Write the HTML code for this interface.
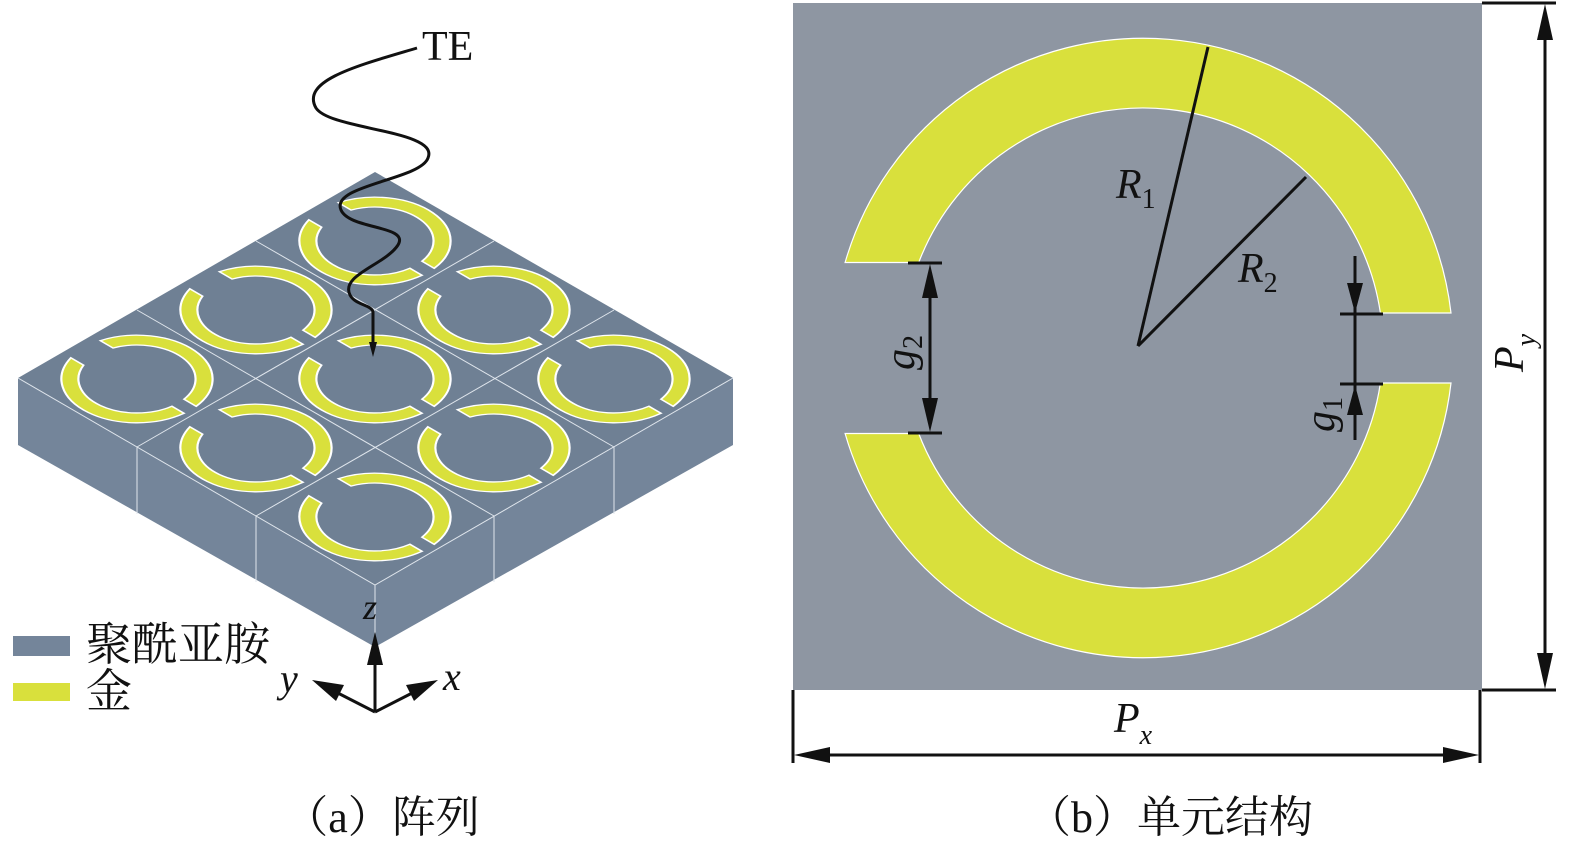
<!DOCTYPE html>
<html><head><meta charset="utf-8"><style>
html,body{margin:0;padding:0;background:#fff;}
svg{display:block;}
</style></head><body>
<svg width="1575" height="849" viewBox="0 0 1575 849" xmlns="http://www.w3.org/2000/svg" font-family="'Liberation Serif','Noto Serif CJK SC',serif">
<defs>
  <g id="ringL">
    <path d="M-297.9,-85.5 A310,310 0 0 1 308,-35 L237.4,-35 A240,240 0 0 0 -224.3,-85.5 Z" fill="#d9e03c" stroke="#fff" stroke-width="9"/>
    <path d="M-297.9,85.5 A310,310 0 0 0 308,35 L237.4,35 A240,240 0 0 1 -224.3,85.5 Z" fill="#d9e03c" stroke="#fff" stroke-width="9"/>
  </g>
  <g id="ringR">
    <path d="M-297.9,-85.5 A310,310 0 0 1 308,-35 L237.4,-35 A240,240 0 0 0 -224.3,-85.5 Z" fill="#d9e03c" stroke="#fff" stroke-width="1.2"/>
    <path d="M-297.9,85.5 A310,310 0 0 0 308,35 L237.4,35 A240,240 0 0 1 -224.3,85.5 Z" fill="#d9e03c" stroke="#fff" stroke-width="1.2"/>
  </g>
</defs>

<!-- LEFT: slab -->
<polygon points="18,378 375,585 375,647 18,445" fill="#74859a"/>
<polygon points="375,585 733,378 733,445 375,647" fill="#74859a"/>
<polygon points="375,172 733,378 375,585 18,378" fill="#6f8094"/>
<g stroke="#dfe5ec" stroke-width="1" fill="none">
  <polyline points="18,378 375,585 733,378"/>
  <line x1="375" y1="585" x2="375" y2="647"/>
  <line x1="137" y1="447" x2="137" y2="514"/>
  <line x1="256" y1="516" x2="256" y2="582"/>
  <line x1="494" y1="516" x2="494" y2="582"/>
  <line x1="614" y1="447" x2="614" y2="514"/>
  <line x1="256" y1="241" x2="614" y2="447"/>
  <line x1="137" y1="310" x2="494" y2="516"/>
  <line x1="494" y1="241" x2="137" y2="447"/>
  <line x1="614" y1="310" x2="256" y2="516"/>
</g>
<g>
  <use href="#ringL" transform="matrix(0.1725,0.1,-0.1725,0.1,375,241)"/>
  <use href="#ringL" transform="matrix(0.1725,0.1,-0.1725,0.1,256,310)"/>
  <use href="#ringL" transform="matrix(0.1725,0.1,-0.1725,0.1,494,310)"/>
  <use href="#ringL" transform="matrix(0.1725,0.1,-0.1725,0.1,137,379)"/>
  <use href="#ringL" transform="matrix(0.1725,0.1,-0.1725,0.1,375,379)"/>
  <use href="#ringL" transform="matrix(0.1725,0.1,-0.1725,0.1,614,379)"/>
  <use href="#ringL" transform="matrix(0.1725,0.1,-0.1725,0.1,256,448)"/>
  <use href="#ringL" transform="matrix(0.1725,0.1,-0.1725,0.1,494,448)"/>
  <use href="#ringL" transform="matrix(0.1725,0.1,-0.1725,0.1,375,517)"/>
</g>
<!-- wave -->
<path d="M417,48 C360,65 300,80 316,108 C330,130 440,130 428,158 C420,180 330,185 341,210 C350,230 410,225 398,245 C385,265 340,275 350,295 C355,305 372,305 373,312 L373,345" fill="none" stroke="#111" stroke-width="3"/>
<polygon points="369,342 377,342 373,357" fill="#111"/>
<text x="422" y="60" font-size="42" fill="#111">TE</text>

<!-- axes -->
<g stroke="#111" stroke-width="3" fill="none">
  <line x1="375" y1="712" x2="375" y2="650"/>
  <line x1="375" y1="712" x2="330" y2="689"/>
  <line x1="375" y1="712" x2="420" y2="689"/>
</g>
<polygon points="375,632 367,665 383,665" fill="#111"/>
<polygon points="312,680 344,685 336,701" fill="#111"/>
<polygon points="438,680 406,685 414,701" fill="#111"/>
<text x="363" y="619" font-style="italic" font-size="36" fill="#111">z</text>
<text x="280" y="692" font-style="italic" font-size="40" fill="#111">y</text>
<text x="443" y="690" font-style="italic" font-size="40" fill="#111">x</text>

<!-- legend -->
<rect x="13" y="636" width="57" height="20" fill="#74859a"/>
<rect x="13" y="683" width="57" height="18" fill="#d9e03c"/>
<text x="86" y="660" font-size="46" fill="#111">聚酰亚胺</text>
<text x="86" y="707" font-size="46" fill="#111">金</text>

<text x="382" y="832" font-size="44" fill="#111" text-anchor="middle">（a）阵列</text>
<text x="1170" y="832" font-size="44" fill="#111" text-anchor="middle">（b）单元结构</text>

<!-- RIGHT: unit cell -->
<rect x="793" y="3" width="689" height="687" fill="#8e96a2"/>
<use href="#ringR" transform="translate(1143,348)"/>
<g stroke="#111" stroke-width="3" fill="none">
  <line x1="1138" y1="346" x2="1208" y2="47"/>
  <line x1="1138" y1="346" x2="1306" y2="177"/>
  <line x1="908" y1="263" x2="942" y2="263"/>
  <line x1="908" y1="433" x2="942" y2="433"/>
  <line x1="930" y1="280" x2="930" y2="416"/>
  <line x1="1340" y1="314" x2="1383" y2="314"/>
  <line x1="1340" y1="384" x2="1383" y2="384"/>
  <line x1="1355" y1="256" x2="1355" y2="440"/>
  <line x1="1482" y1="3" x2="1556" y2="3"/>
  <line x1="1482" y1="690" x2="1556" y2="690"/>
  <line x1="1545" y1="20" x2="1545" y2="673"/>
  <line x1="793" y1="690" x2="793" y2="763"/>
  <line x1="1480" y1="690" x2="1480" y2="763"/>
  <line x1="810" y1="755" x2="1463" y2="755"/>
</g>
<polygon points="930,264 922,298 938,298" fill="#111"/>
<polygon points="930,432 922,398 938,398" fill="#111"/>
<polygon points="1355,313 1347,283 1363,283" fill="#111"/>
<polygon points="1355,385 1347,415 1363,415" fill="#111"/>
<polygon points="1545,4 1537,40 1553,40" fill="#111"/>
<polygon points="1545,689 1537,653 1553,653" fill="#111"/>
<polygon points="794,755 830,747 830,763" fill="#111"/>
<polygon points="1479,755 1443,747 1443,763" fill="#111"/>

<text x="1116" y="198" font-style="italic" font-size="42" fill="#111">R<tspan font-style="normal" font-size="28" dy="10">1</tspan></text>
<text x="1238" y="282" font-style="italic" font-size="42" fill="#111">R<tspan font-style="normal" font-size="28" dy="10">2</tspan></text>
<text x="1114" y="732" font-style="italic" font-size="42" fill="#111">P<tspan font-size="28" dy="12">x</tspan></text>
<g transform="translate(1523,372) rotate(-90)"><text x="0" y="0" font-style="italic" font-size="42" fill="#111">P<tspan font-size="28" dy="12">y</tspan></text></g>
<g transform="translate(914,370) rotate(-90)"><text x="0" y="0" font-style="italic" font-size="42" fill="#111">g<tspan font-style="normal" font-size="28" dy="8">2</tspan></text></g>
<g transform="translate(1334,432) rotate(-90)"><text x="0" y="0" font-style="italic" font-size="42" fill="#111">g<tspan font-style="normal" font-size="28" dy="8">1</tspan></text></g>
</svg>
</body></html>
